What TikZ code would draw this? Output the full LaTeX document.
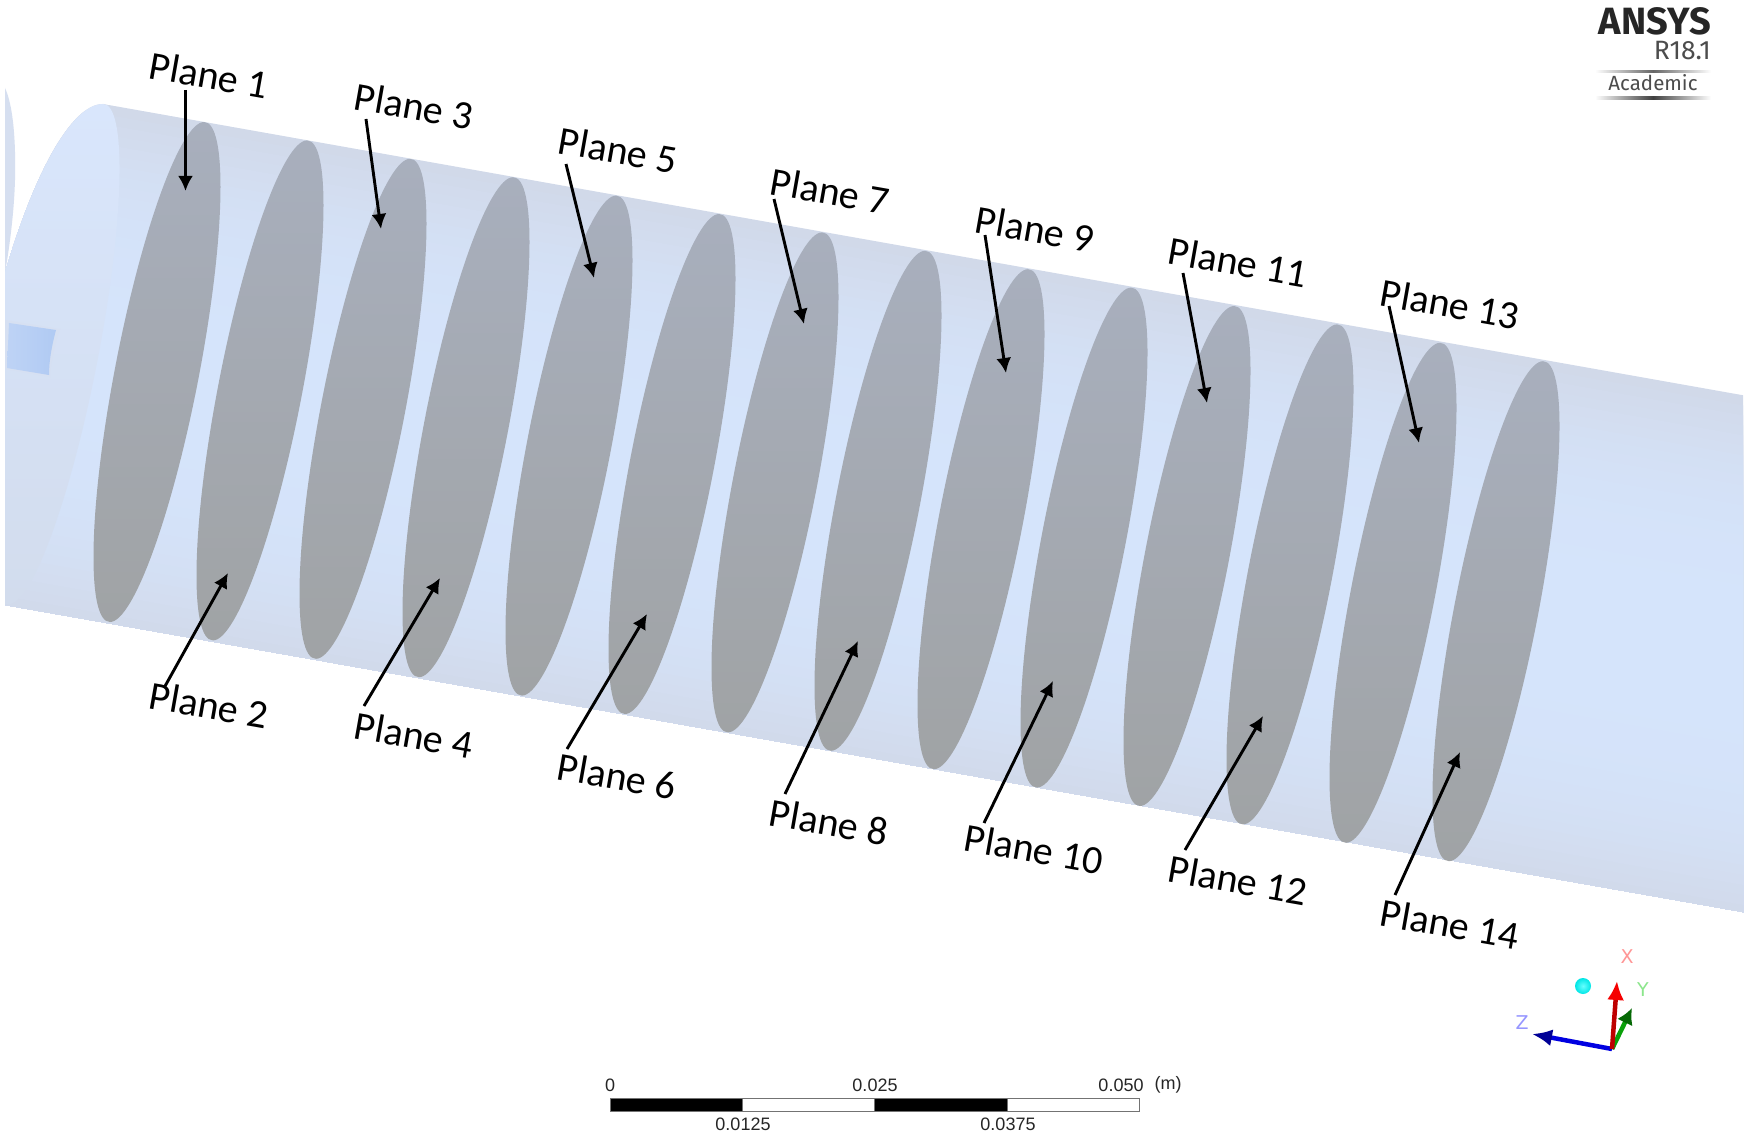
\documentclass[tikz,border=0pt]{standalone}
\usepackage{fontspec}
\setmainfont{Carlito}
\newfontfamily\logofont{Fira Sans}
\newfontfamily\barfont{Liberation Sans}
\newfontfamily\triadfont{DejaVu Sans}
\usetikzlibrary{arrows.meta}
\definecolor{discTop}{RGB}{168,175,189}
\definecolor{discMid}{RGB}{166,173,185}
\definecolor{discBot}{RGB}{160,163,165}
\definecolor{capTop}{RGB}{217,230,252}
\definecolor{capMid}{RGB}{213,227,250}
\definecolor{capBot}{RGB}{210,220,237}
\tikzset{
  planelabel/.style={font=\fontsize{40}{44}\selectfont,rotate=-10,inner sep=0pt,text=black},
  pointer/.style={line width=2.9pt,black,-{Latex[length=15pt,width=15pt]}},
  barlabel/.style={font=\barfont\fontsize{18}{20}\selectfont,inner sep=0pt,text=black!85},
  triadlabel/.style={font=\triadfont\fontsize{19}{21}\selectfont,inner sep=0pt},
  barcell/.style={draw=black!55,line width=1pt},
}
\begin{document}
\begin{tikzpicture}[x=1pt,y=-1pt]
\useasboundingbox (0,0) rectangle (1750,1139);
\fill[white] (0,0) rectangle (1750,1139);
% faint strip at the far left
\fill[fill={rgb,255:red,214;green,223;blue,240}] (5,88) .. controls (13,105) and (16,140) .. (15,180) .. controls (14,215) and (9,250) .. (5,273) -- cycle;
% cylinder body with a gradient across its axis
\begin{scope}
\clip (103,104) -- (1743,395) -- (1743,912) -- (5,605) -- (5,273) .. controls (32,180) and (70,104) .. (103,104) -- cycle;
\foreach \k in {0,...,52}{
  \pgfmathsetmacro{\dd}{\k*10}
  \pgfmathsetmacro{\tt}{abs(\k/52-0.5)*2}
  \pgfmathsetmacro{\ww}{\tt*\tt*\tt}
  \pgfmathsetmacro{\rr}{(213-4*\ww)/255}
  \pgfmathsetmacro{\gg}{(228-11*\ww)/255}
  \pgfmathsetmacro{\bb}{(251-18*\ww)/255}
  \definecolor{bandc}{rgb}{\rr,\gg,\bb}
  \fill[bandc] (0,85.7+\dd) -- (1750,396.5+\dd) -- (1750,930) -- (0,630) -- cycle;
}
\end{scope}
% end cap
\shade[top color=capTop,middle color=capMid,bottom color=capBot]
  (103,104) .. controls (126.6,104) and (124.7,216) .. (98.7,354)
  .. controls (72.7,492) and (32.6,604) .. (9,604) -- (5,604) -- (5,273)
  .. controls (32,180) and (70,104) .. (103,104) -- cycle;
% inlet tab
\fill[fill={rgb,255:red,214;green,224;blue,242}] (5,320) -- (60,329) .. controls (55,345) and (51,360) .. (50,377) -- (5,369) -- cycle;
\shade[left color={rgb,255:red,190;green,211;blue,245},right color={rgb,255:red,176;green,202;blue,243}]
  (9,323) -- (56,330) .. controls (52,345) and (49,360) .. (49,375) -- (7,368) -- cycle;
% discs
\foreach \i in {0,...,13}{
  \pgfmathsetmacro{\cx}{157+103*\i}
  \pgfmathsetmacro{\cy}{372+18.4*\i}
  \begin{scope}
    \clip[cm={4.27,0,4.7,25,(\cx,\cy)}] (0,0) circle (10);
    \shade[top color=discTop,middle color=discMid,bottom color=discBot]
      (\cx-75,\cy-252) rectangle (\cx+75,\cy+252);
  \end{scope}
}
% plane labels and arrows
\foreach \n/\lx/\ly/\sx/\sy/\tx/\ty in {
  1/209/75/185.5/90/185.5/191,
  2/209/705/164/688/228/573,
  3/414/106/366/119/381/229,
  4/414/735/364/706/440/578,
  5/618/150/566/164/594/278,
  6/617/776/567/749/647/614,
  7/830/191/774/199/804/324,
  8/829/822/785/794/858/641,
  9/1035/229/985/235/1006/373,
  10/1034/849/984/823/1053/681,
  11/1238/262/1183/273/1207/403,
  12/1238/880/1185/850/1263/716,
  13/1450/304/1389/306/1419/443,
  14/1450/924/1395/895/1460/752}{
  \node[planelabel] (L\n) at (\lx,\ly) {Plane \n};
  \coordinate (S\n) at (\sx,\sy);
  \coordinate (T\n) at (\tx,\ty);
  \draw[pointer] (S\n) -- (T\n);
}
% logo
\node[font=\logofont\bfseries\fontsize{38}{40}\selectfont,anchor=base east,inner sep=0pt,text=black!85] (ansys) at (1711,35) {ANSYS};
\node[font=\logofont\fontsize{26.5}{28}\selectfont,anchor=base east,inner sep=0pt,text=black!70] (rel) at (1711,60) {R18.1};
\node[font=\logofont\fontsize{20.5}{24}\selectfont,anchor=base,inner sep=0pt,text=black!70] (acad) at (1653,91) {Academic};
\shade[left color=white,right color=white,middle color=black!60] (1595,71) rectangle (1711,73);
\shade[left color=white,right color=white,middle color=black!75] (1595,97) rectangle (1711,99.5);
% scale bar
\draw[barcell,fill=black] (610,1098) rectangle (742,1111);
\draw[barcell,fill=white] (742,1098) rectangle (874.5,1111);
\draw[barcell,fill=black] (874.5,1098) rectangle (1007,1111);
\draw[barcell,fill=white] (1007,1098) rectangle (1139,1111);
\node[barlabel] (b0) at (610,1085) {0};
\node[barlabel] (b1) at (875,1085) {0.025};
\node[barlabel] (b2) at (1121,1085) {0.050};
\node[barlabel] (bm) at (1168,1085) {(m)};
\node[barlabel] (b3) at (743,1124) {0.0125};
\node[barlabel] (b4) at (1008,1124) {0.0375};
% triad
\coordinate (orig) at (1612,1049);
\coordinate (xtip) at (1617,981);
\coordinate (ytip) at (1632,1008);
\coordinate (ztip) at (1532,1034);
\definecolor{ygreen}{RGB}{10,160,10}
\definecolor{yhead}{RGB}{5,105,5}
\definecolor{zblue}{RGB}{0,0,225}
\definecolor{zhead}{RGB}{0,0,150}
\definecolor{xred}{RGB}{190,0,0}
\definecolor{xhead}{RGB}{245,0,0}
\draw[ygreen,line width=4.5pt,-{Latex[length=16pt,width=17pt,color=yhead]}] (orig) -- (ytip);
\draw[zblue,line width=4.5pt,-{Latex[length=20pt,width=17pt,color=zhead]}] (orig) -- (ztip);
\draw[xred,line width=4.5pt,-{Latex[length=19pt,width=17pt,color=xhead]}] (orig) -- (xtip);
\shade[inner color=cyan!60!white,outer color=cyan!90!black] (1583,986) circle (8);
\node[triadlabel,text={rgb,255:red,255;green,150;blue,150}] (xl) at (1627,957) {X};
\node[triadlabel,text={rgb,255:red,140;green,230;blue,140}] (yl) at (1643,990) {Y};
\node[triadlabel,text={rgb,255:red,150;green,150;blue,255}] (zl) at (1522,1023) {Z};
\end{tikzpicture}
\end{document}
